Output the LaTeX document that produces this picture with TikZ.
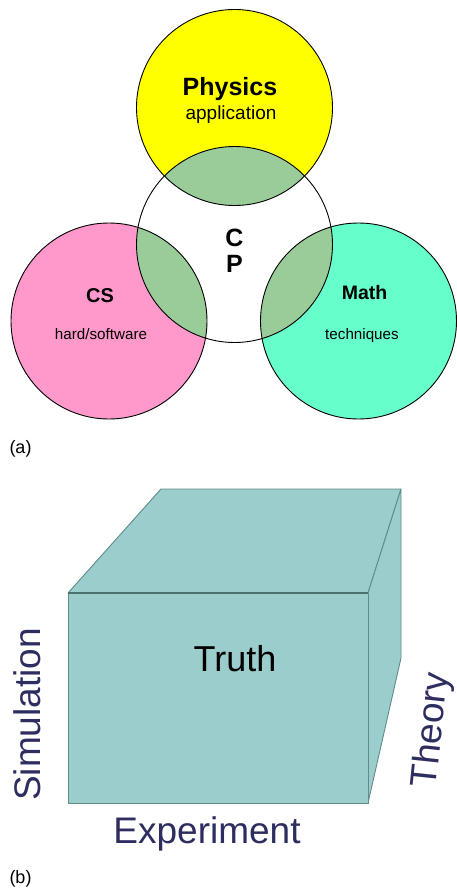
\documentclass[tikz,border=0pt]{standalone}
\usepackage{fontspec}
\setmainfont{Liberation Sans}
\definecolor{physyel}{RGB}{255,255,0}
\definecolor{cspink}{RGB}{255,153,204}
\definecolor{mathteal}{RGB}{102,255,204}
\definecolor{ovlgreen}{RGB}{153,204,153}
\definecolor{boxfill}{RGB}{155,205,204}
\definecolor{boxedge}{RGB}{95,140,138}
\definecolor{navy}{RGB}{45,45,95}
\tikzset{
  ring/.style={draw=black, line width=0.9pt},
  boldlbl/.style={font=\bfseries\fontsize{#1}{#1}\selectfont, inner sep=0pt, anchor=base},
  plainlbl/.style={font=\fontsize{#1}{#1}\selectfont, inner sep=0pt, anchor=base},
  axislbl/.style={font=\fontsize{37}{37}\selectfont, text=navy, inner sep=0pt, anchor=base},
  face/.style={fill=boxfill, draw=boxedge, line width=0.9pt, line join=round}
}
\begin{document}
\begin{tikzpicture}[x=1pt,y=-1pt]
\useasboundingbox (0,0) rectangle (456,888);
% circle centres
\coordinate (phc) at (234.5,107.5);
\coordinate (cpc) at (234.5,244.5);
\coordinate (csc) at (109,321);
\coordinate (mac) at (358.5,321);
% fills
\fill[physyel] (phc) circle[radius=98pt];
\fill[cspink] (csc) circle[radius=98pt];
\fill[mathteal] (mac) circle[radius=98pt];
\fill[white] (cpc) circle[radius=98pt];
\begin{scope}
  \clip (cpc) circle[radius=98pt];
  \fill[ovlgreen] (phc) circle[radius=98pt];
  \fill[ovlgreen] (csc) circle[radius=98pt];
  \fill[ovlgreen] (mac) circle[radius=98pt];
\end{scope}
% outlines
\draw[ring] (phc) circle[radius=98pt];
\draw[ring] (csc) circle[radius=98pt];
\draw[ring] (mac) circle[radius=98pt];
\draw[ring] (cpc) circle[radius=98pt];
% labels (a)
\node[boldlbl=25] (physics) at (230,96) {Physics};
\node[plainlbl=19] (appl) at (231,120) {application};
\node[boldlbl=25] (cpC) at (234.5,246) {C};
\node[boldlbl=25] (cpP) at (234.5,272.5) {P};
\node[boldlbl=20] (cs) at (100,302) {CS};
\node[plainlbl=15.2] (hard) at (101,339.5) {hard/software};
\node[boldlbl=19.5] (math) at (364.5,299.5) {Math};
\node[plainlbl=15.2] (tech) at (362,339.5) {techniques};
\node[plainlbl=18] (la) at (20.5,453) {(a)};
% box (b)
\coordinate (fTL) at (68,593);
\coordinate (fTR) at (368,593);
\coordinate (fBR) at (368,803);
\coordinate (fBL) at (68,803);
\coordinate (bTL) at (161,489);
\coordinate (bTR) at (401,489);
\coordinate (bBR) at (401,658);
\path[face] (fTL) -- (bTL) -- (bTR) -- (fTR) -- cycle;
\path[face] (fTR) -- (bTR) -- (bBR) -- (fBR) -- cycle;
\path[face] (fTL) -- (fTR) -- (fBR) -- (fBL) -- cycle;
\draw[boxedge!80!black, line width=1.3pt] (fTL) -- (fTR);
\node[plainlbl=36] (truth) at (235,671.5) {Truth};
\node[axislbl] (exper) at (207,843) {Experiment};
\node[axislbl, rotate=90] (simul) at (40,714.5) {Simulation};
\node[axislbl, rotate=84] (theory) at (442,731) {Theory};
\node[plainlbl=18] (lb) at (20.5,883) {(b)};
\end{tikzpicture}
\end{document}
